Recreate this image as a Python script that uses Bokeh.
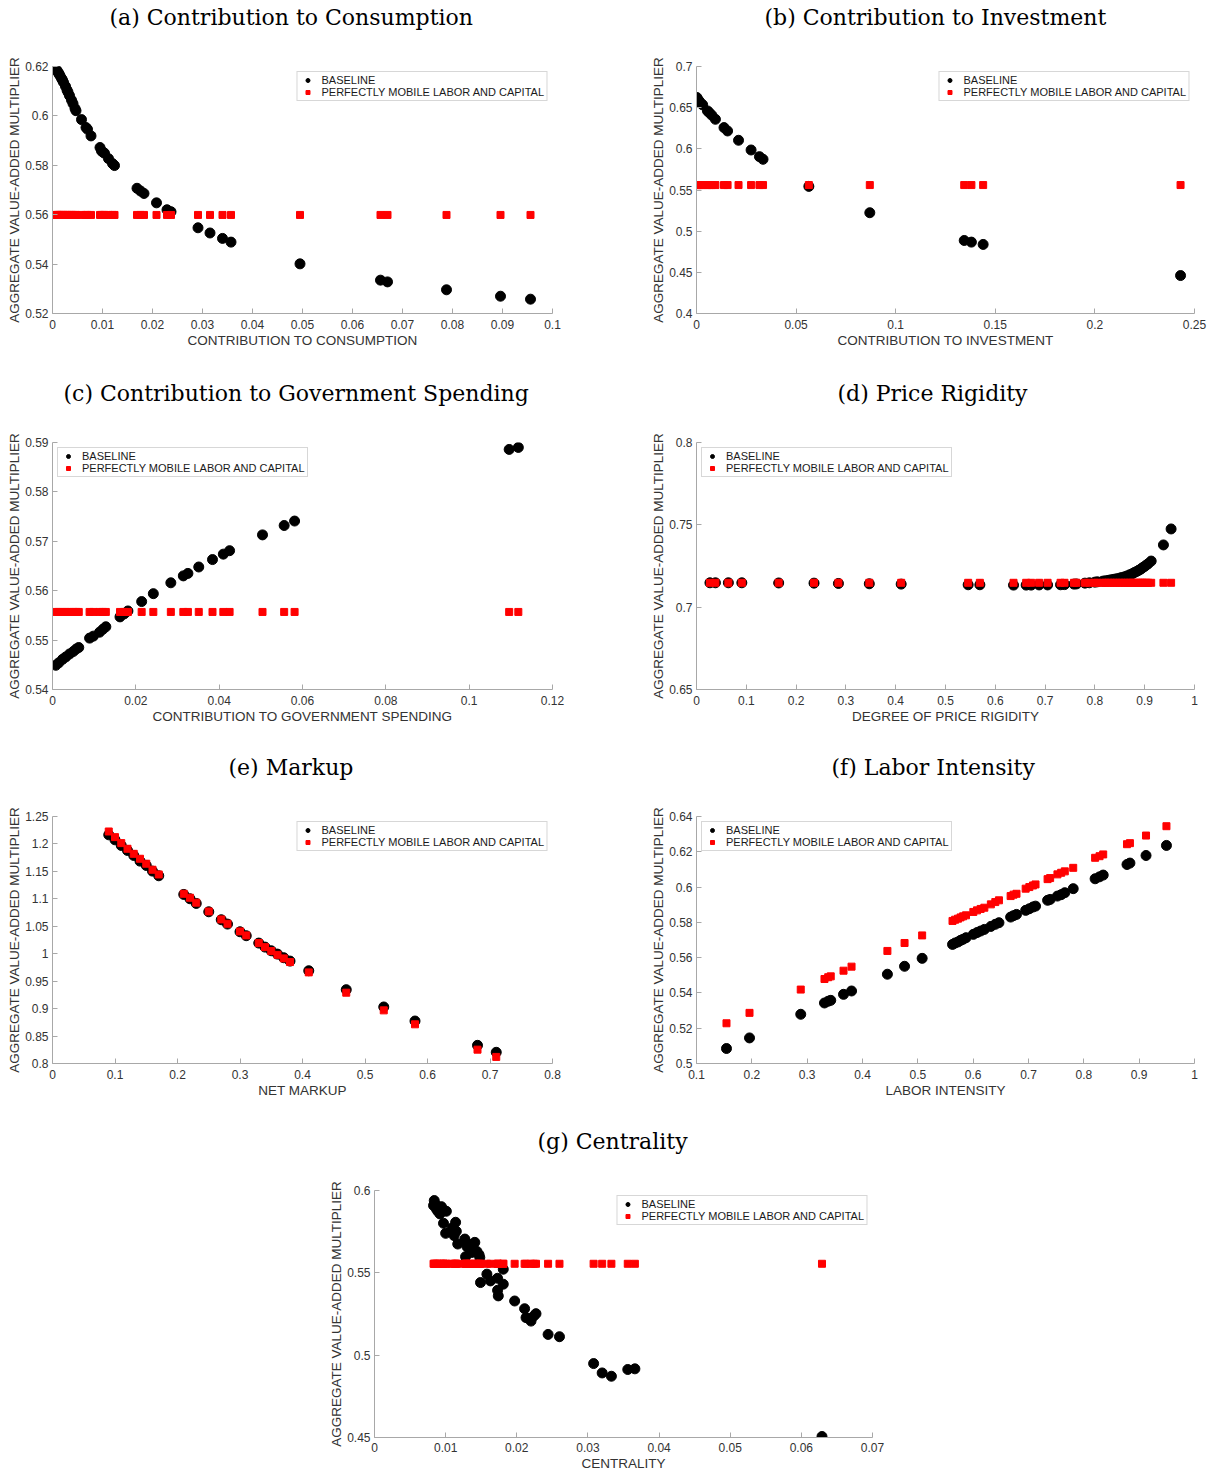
from bokeh.plotting import figure
from bokeh.layouts import column, row, Spacer
from bokeh.models import Range1d, FixedTicker, Legend, LegendItem, Title
from bokeh.embed import file_html
from bokeh.resources import INLINE

YLABEL = "AGGREGATE VALUE-ADDED MULTIPLIER"
LEG_BASE = "BASELINE"
LEG_MOB = "PERFECTLY MOBILE LABOR AND CAPITAL"

# (a) Contribution to Consumption
a_x = [0.0006, 0.0009, 0.0011, 0.0013, 0.0015, 0.0018, 0.0020, 0.0022, 0.0026, 0.0029, 0.0031, 0.0034,
       0.0038, 0.0041, 0.0045, 0.0047, 0.0058, 0.0067, 0.0070, 0.0077, 0.0095, 0.0098, 0.0101, 0.0104,
       0.0112, 0.0120, 0.0124, 0.0169, 0.0176, 0.0183, 0.0208, 0.0229, 0.0237, 0.0291, 0.0315, 0.0340,
       0.0357, 0.0495, 0.0656, 0.0670, 0.0788, 0.0896, 0.0956]
a_base = [0.6192, 0.6184, 0.6177, 0.6170, 0.6163, 0.6152, 0.6145, 0.6136, 0.6120, 0.6105, 0.6096, 0.6082,
          0.6064, 0.6050, 0.6030, 0.6021, 0.5985, 0.5953, 0.5946, 0.5919, 0.5872, 0.5858, 0.5853, 0.5849,
          0.5827, 0.5807, 0.5799, 0.5707, 0.5696, 0.5686, 0.5648, 0.5620, 0.5612, 0.5547, 0.5526, 0.5504,
          0.5489, 0.5401, 0.5335, 0.5328, 0.5296, 0.5270, 0.5258]
a_mob = [0.5599, 0.5599, 0.5599, 0.5599, 0.5599, 0.5599, 0.5599, 0.5599, 0.5599, 0.5599, 0.5599, 0.5599,
         0.5599, 0.5599, 0.5599, 0.5599, 0.5599, 0.5599, 0.5599, 0.5599, 0.5599, 0.5599, 0.5599, 0.5599,
         0.5599, 0.5599, 0.5599, 0.5599, 0.5599, 0.5599, 0.5599, 0.5599, 0.5599, 0.5599, 0.5599, 0.5599,
         0.5599, 0.5599, 0.5599, 0.5599, 0.5599, 0.5599, 0.5599]
a_xticks = [0, 0.01, 0.02, 0.03, 0.04, 0.05, 0.06, 0.07, 0.08, 0.09, 0.1]
a_xlabels = ["0", "0.01", "0.02", "0.03", "0.04", "0.05", "0.06", "0.07", "0.08", "0.09", "0.1"]
a_yticks = [0.52, 0.54, 0.56, 0.58, 0.6, 0.62]
a_ylabels = ["0.52", "0.54", "0.56", "0.58", "0.6", "0.62"]

# (b) Contribution to Investment
b_x = [0.0002, 0.0006, 0.0013, 0.0022, 0.0031, 0.0055, 0.0064, 0.0077, 0.0095, 0.0138, 0.0156, 0.0211,
       0.0274, 0.0316, 0.0334, 0.0564, 0.0870, 0.1344, 0.1380, 0.1439, 0.2430]
b_base = [0.6623, 0.6603, 0.6582, 0.6554, 0.6534, 0.6461, 0.6440, 0.6408, 0.6359, 0.6258, 0.6217, 0.6104,
          0.5986, 0.5905, 0.5873, 0.5544, 0.5224, 0.4887, 0.4867, 0.4839, 0.4461]
b_mob = [0.556, 0.556, 0.556, 0.556, 0.556, 0.556, 0.556, 0.556, 0.556, 0.556, 0.556, 0.556,
         0.556, 0.556, 0.556, 0.556, 0.556, 0.556, 0.556, 0.556, 0.556]
b_xticks = [0, 0.05, 0.1, 0.15, 0.2, 0.25]
b_xlabels = ["0", "0.05", "0.1", "0.15", "0.2", "0.25"]
b_yticks = [0.4, 0.45, 0.5, 0.55, 0.6, 0.65, 0.7]
b_ylabels = ["0.4", "0.45", "0.5", "0.55", "0.6", "0.65", "0.7"]

# (c) Contribution to Government Spending
c_x = [0.0008, 0.0015, 0.0024, 0.0032, 0.0041, 0.0050, 0.0057, 0.0063, 0.0089, 0.0098, 0.0113, 0.0121,
       0.0128, 0.0162, 0.0172, 0.0181, 0.0214, 0.0242, 0.0284, 0.0314, 0.0325, 0.0351, 0.0384, 0.0410,
       0.0425, 0.0504, 0.0556, 0.0581, 0.1096, 0.1118]
c_base = [0.5449, 0.5454, 0.5461, 0.5466, 0.5472, 0.5477, 0.5482, 0.5485, 0.5504, 0.5508, 0.5516, 0.5522,
          0.5527, 0.5547, 0.5553, 0.5559, 0.5578, 0.5594, 0.5616, 0.5630, 0.5635, 0.5648, 0.5663, 0.5674,
          0.5681, 0.5713, 0.5732, 0.5741, 0.5886, 0.5890]
c_mob = [0.5557, 0.5557, 0.5557, 0.5557, 0.5557, 0.5557, 0.5557, 0.5557, 0.5557, 0.5557, 0.5557, 0.5557,
         0.5557, 0.5557, 0.5557, 0.5557, 0.5557, 0.5557, 0.5557, 0.5557, 0.5557, 0.5557, 0.5557, 0.5557,
         0.5557, 0.5557, 0.5557, 0.5557, 0.5557, 0.5557]
c_xticks = [0, 0.02, 0.04, 0.06, 0.08, 0.1, 0.12]
c_xlabels = ["0", "0.02", "0.04", "0.06", "0.08", "0.1", "0.12"]
c_yticks = [0.54, 0.55, 0.56, 0.57, 0.58, 0.59]
c_ylabels = ["0.54", "0.55", "0.56", "0.57", "0.58", "0.59"]

# (d) Price Rigidity
d_x = [0.027, 0.038, 0.064, 0.091, 0.165, 0.236, 0.285, 0.347, 0.411, 0.5455, 0.569, 0.6366, 0.662,
       0.672, 0.688, 0.705, 0.731, 0.739, 0.758, 0.763, 0.780, 0.789, 0.800, 0.805, 0.816, 0.821, 0.827,
       0.832, 0.838, 0.843, 0.849, 0.854, 0.860, 0.865, 0.870, 0.875, 0.879, 0.884, 0.888, 0.892, 0.895,
       0.899, 0.903, 0.907, 0.913, 0.9376, 0.953]
d_base = [0.7148, 0.7148, 0.7148, 0.7148, 0.7147, 0.7146, 0.7144, 0.7142, 0.7140, 0.7136, 0.7136, 0.7134,
          0.7134, 0.7134, 0.7135, 0.7135, 0.7136, 0.7137, 0.7140, 0.7141, 0.7146, 0.7148, 0.7152, 0.7154,
          0.7158, 0.7160, 0.7163, 0.7166, 0.7169, 0.7172, 0.7176, 0.7180, 0.7185, 0.7190, 0.7197, 0.7203,
          0.7210, 0.7217, 0.7224, 0.7231, 0.7238, 0.7246, 0.7255, 0.7264, 0.7280, 0.7378, 0.7475]
d_mob = [0.7148, 0.7148, 0.7148, 0.7148, 0.7148, 0.7148, 0.7148, 0.7148, 0.7148, 0.7148, 0.7148, 0.7148,
         0.7148, 0.7148, 0.7148, 0.7148, 0.7148, 0.7148, 0.7148, 0.7148, 0.7148, 0.7148, 0.7148, 0.7148,
         0.7148, 0.7148, 0.7148, 0.7148, 0.7148, 0.7148, 0.7148, 0.7148, 0.7148, 0.7148, 0.7148, 0.7148,
         0.7148, 0.7148, 0.7148, 0.7148, 0.7148, 0.7148, 0.7148, 0.7148, 0.7148, 0.7148, 0.7148]
d_xticks = [0, 0.1, 0.2, 0.3, 0.4, 0.5, 0.6, 0.7, 0.8, 0.9, 1]
d_xlabels = ["0", "0.1", "0.2", "0.3", "0.4", "0.5", "0.6", "0.7", "0.8", "0.9", "1"]
d_yticks = [0.65, 0.7, 0.75, 0.8]
d_ylabels = ["0.65", "0.7", "0.75", "0.8"]

# (e) Markup
e_x = [0.09, 0.10, 0.11, 0.12, 0.13, 0.14, 0.15, 0.16, 0.17, 0.21, 0.22, 0.23, 0.25, 0.27, 0.28, 0.30,
       0.31, 0.33, 0.34, 0.35, 0.36, 0.37, 0.38, 0.41, 0.47, 0.53, 0.58, 0.68, 0.71]
e_base = [1.2166, 1.2075, 1.1972, 1.1881, 1.1790, 1.1687, 1.1608, 1.1505, 1.1420, 1.1080, 1.1001, 1.0916,
          1.0764, 1.0619, 1.0540, 1.0400, 1.0328, 1.0194, 1.0121, 1.0054, 0.9993, 0.9927, 0.9866, 0.9690,
          0.9345, 0.9030, 0.8774, 0.8331, 0.8204]
e_mob = [1.2227, 1.2124, 1.2015, 1.1912, 1.1820, 1.1730, 1.1640, 1.1530, 1.1444, 1.1092, 1.1020, 1.0930,
         1.0770, 1.0625, 1.0546, 1.0406, 1.0334, 1.0194, 1.0120, 1.0048, 0.9980, 0.9915, 0.9848, 0.9660,
         0.9290, 0.8968, 0.8714, 0.8252, 0.8120]
e_xticks = [0, 0.1, 0.2, 0.3, 0.4, 0.5, 0.6, 0.7, 0.8]
e_xlabels = ["0", "0.1", "0.2", "0.3", "0.4", "0.5", "0.6", "0.7", "0.8"]
e_yticks = [0.8, 0.85, 0.9, 0.95, 1.0, 1.05, 1.1, 1.15, 1.2, 1.25]
e_ylabels = ["0.8", "0.85", "0.9", "0.95", "1", "1.05", "1.1", "1.15", "1.2", "1.25"]

# (f) Labor Intensity
f_x = [0.1542, 0.1958, 0.2884, 0.3313, 0.3380, 0.3426, 0.3657, 0.3802, 0.4450, 0.4760, 0.5078, 0.5627,
       0.5674, 0.5726, 0.5772, 0.5818, 0.5871, 0.6003, 0.6069, 0.6135, 0.6202, 0.6320, 0.6400, 0.6466,
       0.6677, 0.6730, 0.6783, 0.6949, 0.7015, 0.7081, 0.7127, 0.7345, 0.7391, 0.7523, 0.7590, 0.7656,
       0.7808, 0.8204, 0.8284, 0.8350, 0.8780, 0.8833, 0.9124, 0.9493]
f_base = [0.5085, 0.5145, 0.5279, 0.5343, 0.5353, 0.5358, 0.5392, 0.5411, 0.5506, 0.5551, 0.5596, 0.5675,
          0.5683, 0.5689, 0.5698, 0.5704, 0.5713, 0.5732, 0.5742, 0.5751, 0.5760, 0.5777, 0.5789, 0.5798,
          0.5830, 0.5838, 0.5845, 0.5868, 0.5877, 0.5887, 0.5892, 0.5925, 0.5930, 0.5949, 0.5957, 0.5968,
          0.5991, 0.6047, 0.6058, 0.6068, 0.6128, 0.6136, 0.6179, 0.6236]
f_mob = [0.5228, 0.5287, 0.5419, 0.5479, 0.5489, 0.5494, 0.5526, 0.5549, 0.5638, 0.5683, 0.5726, 0.5808,
         0.5815, 0.5821, 0.5828, 0.5834, 0.5840, 0.5859, 0.5868, 0.5876, 0.5883, 0.5902, 0.5915, 0.5925,
         0.5949, 0.5957, 0.5962, 0.5991, 0.6000, 0.6009, 0.6015, 0.6045, 0.6051, 0.6072, 0.6081, 0.6089,
         0.6109, 0.6166, 0.6175, 0.6185, 0.6243, 0.6249, 0.6292, 0.6345]
f_xticks = [0.1, 0.2, 0.3, 0.4, 0.5, 0.6, 0.7, 0.8, 0.9, 1]
f_xlabels = ["0.1", "0.2", "0.3", "0.4", "0.5", "0.6", "0.7", "0.8", "0.9", "1"]
f_yticks = [0.5, 0.52, 0.54, 0.56, 0.58, 0.6, 0.62, 0.64]
f_ylabels = ["0.5", "0.52", "0.54", "0.56", "0.58", "0.6", "0.62", "0.64"]

# (g) Centrality
g_x = [0.0084, 0.0085, 0.0083, 0.0087, 0.0089, 0.0092, 0.0094, 0.0097, 0.0101, 0.0097, 0.0100, 0.0109,
       0.0112, 0.0114, 0.0115, 0.0117, 0.0127, 0.0129, 0.0130, 0.0128, 0.0134, 0.0137, 0.0141, 0.0144,
       0.0147, 0.0148, 0.0149, 0.0158, 0.0163, 0.0173, 0.0173, 0.0174, 0.0181, 0.0181, 0.0197, 0.0211,
       0.0213, 0.0220, 0.0224, 0.0227, 0.0244, 0.0260, 0.0308, 0.0320, 0.0333, 0.0356, 0.0366, 0.0629]
g_base = [0.5939, 0.5919, 0.5909, 0.5888, 0.5874, 0.5858, 0.5902, 0.5882, 0.5874, 0.5801, 0.5740, 0.5772,
          0.5726, 0.5807, 0.5752, 0.5675, 0.5705, 0.5685, 0.5659, 0.5598, 0.5644, 0.5624, 0.5685, 0.5630,
          0.5610, 0.5593, 0.5441, 0.5492, 0.5451, 0.5467, 0.5394, 0.5360, 0.5522, 0.5431, 0.5329, 0.5282,
          0.5228, 0.5207, 0.5238, 0.5252, 0.5126, 0.5112, 0.4949, 0.4892, 0.4872, 0.4913, 0.4917, 0.4506]
g_mob = [0.5555, 0.5555, 0.5555, 0.5555, 0.5555, 0.5555, 0.5555, 0.5555, 0.5555, 0.5555, 0.5555, 0.5555,
         0.5555, 0.5555, 0.5555, 0.5555, 0.5555, 0.5555, 0.5555, 0.5555, 0.5555, 0.5555, 0.5555, 0.5555,
         0.5555, 0.5555, 0.5555, 0.5555, 0.5555, 0.5555, 0.5555, 0.5555, 0.5555, 0.5555, 0.5555, 0.5555,
         0.5555, 0.5555, 0.5555, 0.5555, 0.5555, 0.5555, 0.5555, 0.5555, 0.5555, 0.5555, 0.5555, 0.5555]
g_xticks = [0, 0.01, 0.02, 0.03, 0.04, 0.05, 0.06, 0.07]
g_xlabels = ["0", "0.01", "0.02", "0.03", "0.04", "0.05", "0.06", "0.07"]
g_yticks = [0.45, 0.5, 0.55, 0.6]
g_ylabels = ["0.45", "0.5", "0.55", "0.6"]

AXIS_COLOR = "#a8a8a8"
TEXT_COLOR = "#333333"
SANS = "Liberation Sans"
SERIF = "DejaVu Serif"


def make_panel(title, toff, x, base, mob, xticks, xlabels, yticks, ylabels, xlabel, legpos,
               frame_w, right_border, bottom, lab_standoff=6):
    p = figure(frame_width=frame_w, frame_height=247, output_backend="svg", toolbar_location=None,
               tools="", x_range=Range1d(xticks[0], xticks[-1]), y_range=Range1d(yticks[0], yticks[-1]),
               min_border_left=52, min_border_right=right_border,
               min_border_top=0, min_border_bottom=bottom)
    p.outline_line_color = None
    p.grid.visible = False
    p.background_fill_color = "white"
    p.border_fill_color = "white"

    spacer = Title(text=" ", text_font=SANS, text_font_size="10px", standoff=18)
    head = Title(text=title, align="left", offset=toff, text_font=SERIF, text_font_size="22px",
                 text_font_style="normal", text_color="black", standoff=8, vertical_align="top")
    p.add_layout(spacer, "above")
    p.add_layout(head, "above")

    for ax in (p.xaxis[0], p.yaxis[0]):
        ax.axis_line_color = AXIS_COLOR
        ax.axis_line_width = 1
        ax.major_tick_line_color = AXIS_COLOR
        ax.major_tick_in = 5
        ax.major_tick_out = 0
        ax.minor_tick_line_color = None
        ax.major_label_text_font = SANS
        ax.major_label_text_font_size = "12px"
        ax.major_label_text_color = TEXT_COLOR
        ax.axis_label_text_font = SANS
        ax.axis_label_text_font_size = "13.5px"
        ax.axis_label_text_font_style = "normal"
        ax.axis_label_text_color = TEXT_COLOR

    p.xaxis.ticker = FixedTicker(ticks=xticks)
    p.xaxis.major_label_overrides = {t: l for t, l in zip(xticks, xlabels)}
    p.yaxis.ticker = FixedTicker(ticks=yticks)
    p.yaxis.major_label_overrides = {t: l for t, l in zip(yticks, ylabels)}
    p.xaxis.axis_label = xlabel
    p.yaxis.axis_label = YLABEL
    p.xaxis.major_label_standoff = lab_standoff
    p.xaxis.axis_label_standoff = 1
    p.yaxis.major_label_standoff = 4
    p.yaxis.axis_label_standoff = 0

    r1 = p.scatter(x, base, marker="circle", size=10, fill_color="black", line_color="black")
    r2 = p.scatter(x, mob, marker="square", size=7, fill_color="red", line_color="red")

    leg = Legend(items=[LegendItem(label=LEG_BASE, renderers=[r1]),
                        LegendItem(label=LEG_MOB, renderers=[r2])],
                 location=legpos, margin=5, padding=2, spacing=0,
                 glyph_width=16, glyph_height=10, label_height=12, label_standoff=6,
                 label_text_font=SANS, label_text_font_size="11px", label_text_color="#1a1a1a",
                 border_line_color="#b0b0b0", border_line_width=1,
                 background_fill_color="white", background_fill_alpha=1.0)
    p.add_layout(leg)
    return p


LF, LR = 500, 92   # left-column panels: frame width, right border
RF, RR = 498, 20   # right-column panels

pa = make_panel("(a) Contribution to Consumption", 57, a_x, a_base, a_mob, a_xticks, a_xlabels,
                a_yticks, a_ylabels, "CONTRIBUTION TO CONSUMPTION", "top_right", LF, LR, 63)
pb = make_panel("(b) Contribution to Investment", 68, b_x, b_base, b_mob, b_xticks, b_xlabels,
                b_yticks, b_ylabels, "CONTRIBUTION TO INVESTMENT", "top_right", RF, RR, 63)
pc = make_panel("(c) Contribution to Government Spending", 11, c_x, c_base, c_mob, c_xticks, c_xlabels,
                c_yticks, c_ylabels, "CONTRIBUTION TO GOVERNMENT SPENDING", "top_left", LF, LR, 61)
pd = make_panel("(d) Price Rigidity", 141, d_x, d_base, d_mob, d_xticks, d_xlabels,
                d_yticks, d_ylabels, "DEGREE OF PRICE RIGIDITY", "top_left", RF, RR, 61)
pe = make_panel("(e) Markup", 176, e_x, e_base, e_mob, e_xticks, e_xlabels,
                e_yticks, e_ylabels, "NET MARKUP", "top_right", LF, LR, 61)
pf = make_panel("(f) Labor Intensity", 135, f_x, f_base, f_mob, f_xticks, f_xlabels,
                f_yticks, f_ylabels, "LABOR INTENSITY", "top_left", RF, RR, 61)
pg = make_panel("(g) Centrality", 163, g_x, g_base, g_mob, g_xticks, g_xlabels,
                g_yticks, g_ylabels, "CENTRALITY", "top_right", RF, RR, 35, lab_standoff=5)

layout = column(row(pa, pb), row(pc, pd), row(pe, pf), row(Spacer(width=322, height=10), pg))

open("out.html", "w").write(file_html(layout, INLINE))
